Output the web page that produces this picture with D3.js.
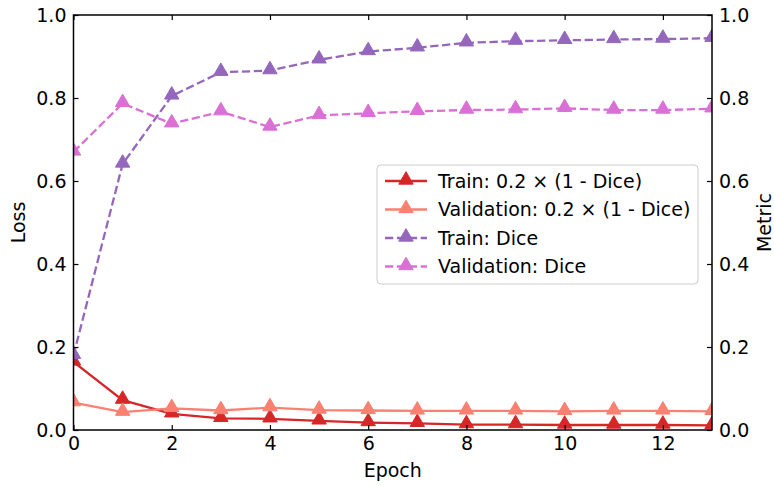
<!DOCTYPE html>
<html>
<head>
<meta charset="utf-8">
<script src="https://d3js.org/d3.v7.min.js"></script>
<style>
    body { margin: 0; background: #fff; }
    text { font-family: "DejaVu Sans", sans-serif; }
</style>
</head>
<body>
<div id="chart"></div>
<script>
    // values
    var epochs = [0, 1, 2, 3, 4, 5, 6, 7, 8, 9, 10, 11, 12, 13];
    var trainLoss = [0.164, 0.072, 0.039, 0.028, 0.027, 0.022, 0.018, 0.016, 0.013, 0.013, 0.012, 0.012, 0.012, 0.011];
    var valLoss = [0.066, 0.043, 0.052, 0.047, 0.054, 0.048, 0.047, 0.046, 0.046, 0.046, 0.045, 0.046, 0.046, 0.045];
    var trainDice = [0.180, 0.641, 0.805, 0.862, 0.866, 0.892, 0.912, 0.921, 0.933, 0.937, 0.939, 0.941, 0.942, 0.944];
    var valDice = [0.670, 0.787, 0.738, 0.767, 0.730, 0.758, 0.763, 0.768, 0.771, 0.772, 0.775, 0.771, 0.771, 0.774];
    var xTicks = [0, 2, 4, 6, 8, 10, 12];
    var yTicks = [0, 0.2, 0.4, 0.6, 0.8, 1.0];

    var series = [
        { name: "Train: 0.2 \u00d7 (1 - Dice)", values: trainLoss, color: "#d62728", dash: null, axis: "left" },
        { name: "Validation: 0.2 \u00d7 (1 - Dice)", values: valLoss, color: "#fa8072", dash: null, axis: "left" },
        { name: "Train: Dice", values: trainDice, color: "#9467bd", dash: "8.3,3.6", axis: "right" },
        { name: "Validation: Dice", values: valDice, color: "#da70d6", dash: "8.3,3.6", axis: "right" }
    ];

    (function () {
        var W = 774, H = 486;
        var margin = { top: 15, right: 62, bottom: 56, left: 73.5 };
        var width = W - margin.left - margin.right,
            height = H - margin.top - margin.bottom;
        var fs = "19px";

        var svg = d3.select("#chart").append("svg")
            .attr("width", W)
            .attr("height", H);

        var g = svg.append("g")
            .attr("transform", "translate(" + margin.left + "," + margin.top + ")");

        var x = d3.scaleLinear().domain([0, 13]).range([0, width]);
        var yL = d3.scaleLinear().domain([0, 1]).range([height, 0]);
        var yR = d3.scaleLinear().domain([0, 1]).range([height, 0]);

        svg.append("defs").append("clipPath").attr("id", "clip")
            .append("rect").attr("width", width).attr("height", height);

        var plot = g.append("g").attr("clip-path", "url(#clip)");

        var tri = d3.symbol().type(d3.symbolTriangle).size(90);

        series.forEach(function (s) {
            var yy = s.axis === "left" ? yL : yR;
            var line = d3.line()
                .x(function (d, i) { return x(epochs[i]); })
                .y(function (d) { return yy(d); });
            plot.append("path")
                .datum(s.values)
                .attr("fill", "none")
                .attr("stroke", s.color)
                .attr("stroke-width", 2.3)
                .attr("stroke-dasharray", s.dash)
                .attr("d", line);
            plot.selectAll(null)
                .data(s.values)
                .enter().append("path")
                .attr("d", tri)
                .attr("transform", function (d, i) { return "translate(" + x(epochs[i]) + "," + (yy(d) - 1) + ")"; })
                .attr("fill", s.color)
                .attr("stroke", s.color)
                .attr("stroke-width", 1);
        });

        // axes, ticks pointing in
        function style(ax) {
            ax.selectAll("text").style("font-size", fs).attr("fill", "#000");
            ax.selectAll("line").attr("stroke", "#000").attr("stroke-width", 1.2);
            ax.select(".domain").remove();
        }
        var fmt = d3.format(".1f");

        var axBottom = g.append("g").attr("transform", "translate(0," + height + ")")
            .call(d3.axisBottom(x).tickValues(xTicks).tickSizeInner(-5).tickSizeOuter(0).tickPadding(7));
        style(axBottom);
        var axTop = g.append("g")
            .call(d3.axisTop(x).tickValues(xTicks).tickSizeInner(-5).tickSizeOuter(0).tickFormat(""));
        style(axTop);
        var axLeft = g.append("g")
            .call(d3.axisLeft(yL).tickValues(yTicks).tickFormat(fmt).tickSizeInner(-5).tickSizeOuter(0).tickPadding(7));
        style(axLeft);
        var axRight = g.append("g").attr("transform", "translate(" + width + ",0)")
            .call(d3.axisRight(yR).tickValues(yTicks).tickFormat(fmt).tickSizeInner(-5).tickSizeOuter(0).tickPadding(7));
        style(axRight);

        g.append("rect")
            .attr("width", width).attr("height", height)
            .attr("fill", "none").attr("stroke", "#000").attr("stroke-width", 1.5);

        svg.append("text")
            .attr("x", margin.left + width / 2).attr("y", H - 9)
            .attr("text-anchor", "middle").style("font-size", fs)
            .text("Epoch");
        svg.append("text")
            .attr("transform", "translate(25," + (margin.top + height / 2) + ") rotate(-90)")
            .attr("text-anchor", "middle").style("font-size", fs)
            .text("Loss");
        svg.append("text")
            .attr("transform", "translate(771," + (margin.top + height / 2) + ") rotate(-90)")
            .attr("text-anchor", "middle").style("font-size", fs)
            .text("Metric");

        // legend
        var lg = svg.append("g").attr("transform", "translate(377,165)");
        lg.append("rect")
            .attr("width", 321).attr("height", 119).attr("rx", 4)
            .attr("fill", "#fff").attr("fill-opacity", 0.8)
            .attr("stroke", "#ccc").attr("stroke-width", 1);
        series.forEach(function (s, i) {
            var yy = 16 + i * 28.5;
            lg.append("line")
                .attr("x1", 8).attr("x2", 50).attr("y1", yy).attr("y2", yy)
                .attr("stroke", s.color).attr("stroke-width", 2.3)
                .attr("stroke-dasharray", s.dash);
            lg.append("path")
                .attr("d", tri)
                .attr("transform", "translate(29," + (yy - 1) + ")")
                .attr("fill", s.color).attr("stroke", s.color);
            lg.append("text")
                .attr("x", 61).attr("y", yy).attr("dy", "0.35em")
                .style("font-size", fs)
                .text(s.name);
        });
    })();
</script>
</body>
</html>
